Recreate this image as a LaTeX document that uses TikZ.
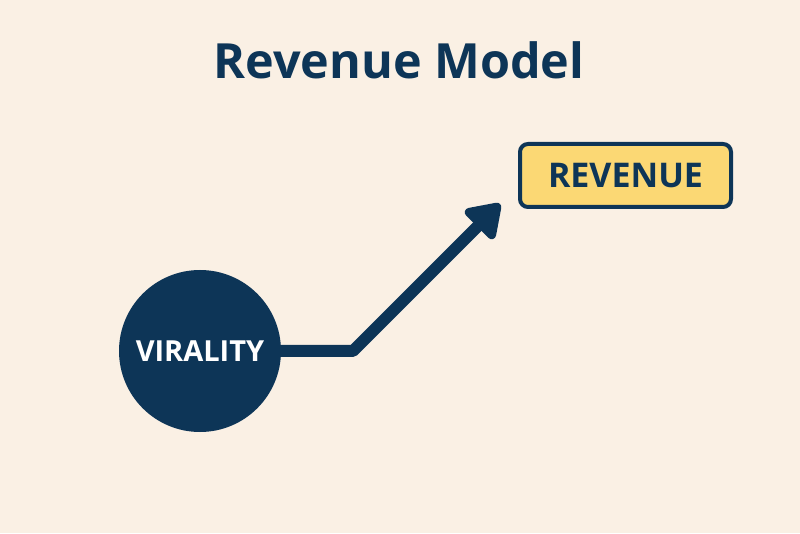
\documentclass[tikz,border=0pt]{standalone}
\usepackage{fontspec}
\setmainfont{Open Sans}
\usetikzlibrary{arrows.meta}
\definecolor{navy}{HTML}{0D3557}
\definecolor{bg}{HTML}{FAF0E4}
\definecolor{gold}{HTML}{FBD874}
\tikzset{
  title/.style={text=navy,font=\fontsize{48.5}{52}\selectfont\bfseries},
  hub/.style={circle,fill=navy,minimum size=162pt,inner sep=0pt,text=white,font=\fontsize{29}{31}\selectfont\bfseries},
  target/.style={draw=navy,line width=4pt,fill=gold,rounded corners=8pt,minimum width=211pt,minimum height=63pt,text=navy,font=\fontsize{34}{36}\selectfont\bfseries},
  flow/.style={draw=navy,line width=12pt,line join=round,-{Triangle[length=36pt,width=46pt,round]}}
}
\begin{document}
\begin{tikzpicture}[x=1pt,y=1pt]
\fill[bg] (0,0) rectangle (800,533);
\useasboundingbox (0,0) rectangle (800,533);
\node[title] (t) at (399,473) {Revenue Model};
\node[hub] (v) at (200,182) {VIRALITY};
\node[target] (r) at (625.5,357.5) {REVENUE};
\coordinate (bend) at (353,182);
\coordinate (tip) at (500,329);
\draw[flow] (v.east) -- (bend) -- (tip);
\end{tikzpicture}
\end{document}
